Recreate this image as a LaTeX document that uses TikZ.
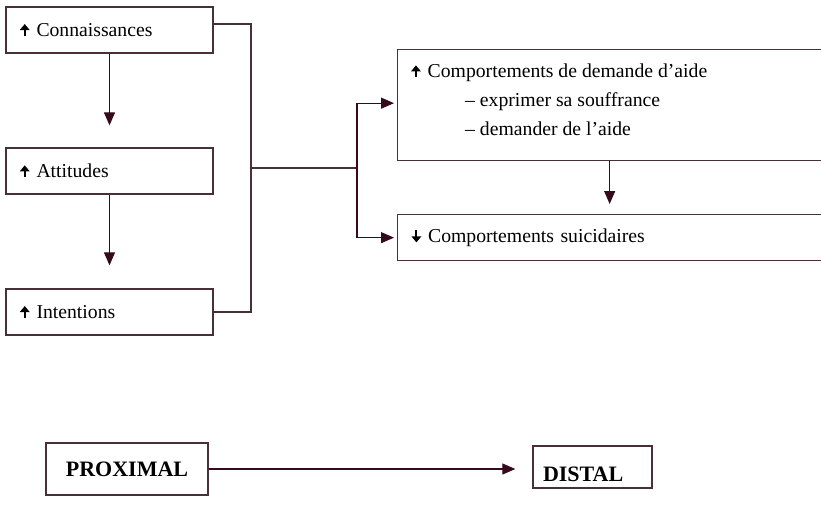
\documentclass[tikz,border=0pt]{standalone}
\usepackage{fontspec}
\setmainfont{Liberation Serif}
\usetikzlibrary{arrows.meta}
\definecolor{trait}{RGB}{72,48,58}
\definecolor{pointe}{RGB}{52,10,28}
\newcommand{\hausse}{\tikz[baseline=0pt]\draw[line width=2pt,-{Triangle[width=9.5pt,length=6pt]}] (0pt,0pt) -- (0pt,12pt);\hspace{7pt}}
\newcommand{\baisse}{\tikz[baseline=0pt]\draw[line width=2pt,-{Triangle[width=9.5pt,length=6pt]}] (0pt,12pt) -- (0pt,0pt);\hspace{7pt}}
\begin{document}
\begin{tikzpicture}[x=1pt,y=-1pt,line width=1.1pt,node distance=141pt,font=\fontsize{19.7}{29}\selectfont]
      \tikzstyle{boite}=[draw=trait,line width=1.3pt,minimum height=46pt,text width=179pt,inner xsep=14pt,inner ysep=0pt]
      \tikzstyle{fleche}=[draw=pointe,-{Triangle[width=11pt,length=13pt]}]
      \useasboundingbox (0,0) rectangle (821,509);
      \clip (0,0) rectangle (821,509);

      \node(conn) [boite] at (109.5,30) {\hausse Connaissances};
      \node(att) [boite, below of=conn] {\hausse Attitudes};
      \node(int) [boite, below of=att] {\hausse Intentions};
      \draw[fleche, shorten >=22pt] (conn) -- (att);
      \draw[fleche, shorten >=23pt] (att) -- (int);

      \node(aide) [boite, minimum width=440pt, minimum height=111pt, anchor=north west] at (397,49) {};
      \node(aidetxt) [anchor=north west, align=left, inner sep=0pt] at (411,63.5) {\hausse Comportements de demande d’aide\\ \hspace*{54pt}– exprimer sa souffrance\\ \hspace*{54pt}– demander de l’aide};
      \node(suic) [boite, text width=412pt, anchor=north west] at (397,214) {\baisse Comportements suicidaires};
      \draw[fleche, shorten >=10pt] ([xshift=-8pt]aide.south) -- ([xshift=-8pt]suic.north);

      \coordinate(tronc) at (251,168);
      \coordinate(fourche) at (357,168);
      \draw[trait] ([yshift=6pt]conn.east) -| (tronc) |- (int.east);
      \draw[trait] (tronc) -- (fourche);
      \draw[fleche, shorten >=3pt] (fourche) |- ([yshift=2pt]aide.west);
      \draw[fleche, shorten >=3pt] (fourche) |- (suic.west);

      \node(prox) [draw=trait, line width=1.3pt, minimum width=162pt, minimum height=52pt, inner sep=0pt, font=\fontsize{22}{26}\selectfont\bfseries] at (127,469) {PROXIMAL};
      \node(dist) [draw=trait, line width=1.3pt, minimum width=119pt, minimum height=42pt, text width=99pt, inner xsep=10pt, text height=28pt, text depth=0pt, font=\fontsize{22}{26}\selectfont\bfseries] at (592.5,467) {DISTAL};
      \draw[fleche, shorten >=17pt] (prox.east) -- (prox.east -| dist.west);
    \end{tikzpicture}
\end{document}
